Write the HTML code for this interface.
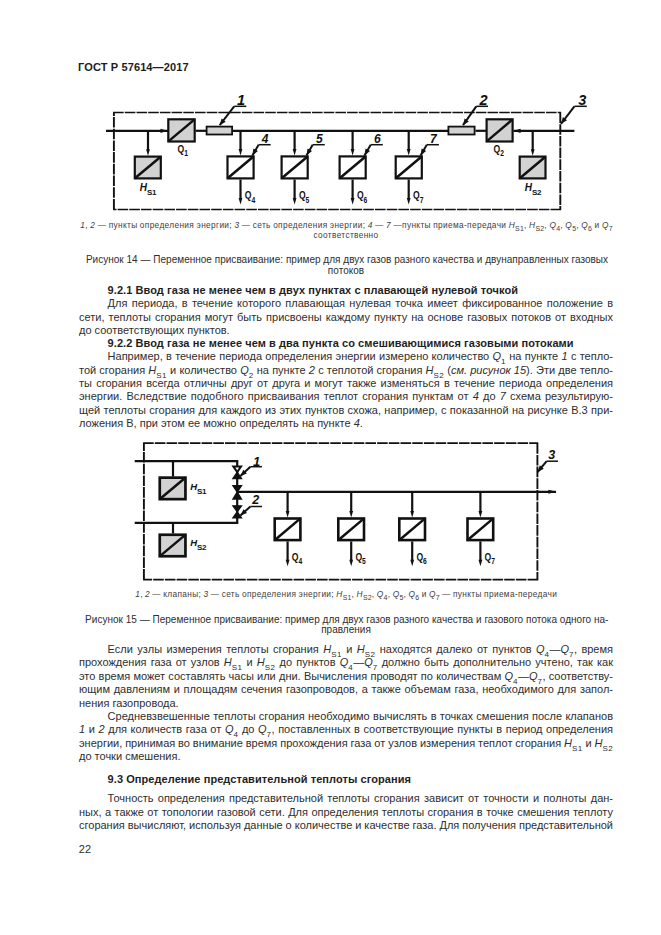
<!DOCTYPE html>
<html><head><meta charset="utf-8"><title>ГОСТ Р 57614—2017</title>
<style>
html,body{margin:0;padding:0;background:#fff}
body{width:661px;height:935px;position:relative;overflow:hidden;font-family:"Liberation Sans",sans-serif;color:#2e2e2e}
.t{position:absolute;line-height:14.0px;height:14.0px;white-space:nowrap}
.b{font-size:11px}
.h{font-size:11px;font-weight:bold;letter-spacing:0.066px;color:#1e1e1e}
.hd{font-size:11px;font-weight:bold;letter-spacing:0.12px;color:#1e1e1e}
.cap{font-size:10px;letter-spacing:0.018px}
.lg{font-size:8.3px;letter-spacing:0.35px;color:#404040}
.j{}
sub{font-size:8px;vertical-align:-3.5px;line-height:0;font-style:normal;letter-spacing:0.4px}
.lg sub{font-size:7px;vertical-align:-2.5px;letter-spacing:0.2px}
.dg{position:absolute;left:0;top:0}
.dg text{stroke:none;fill:#111;font-family:"Liberation Sans",sans-serif}
.ln{font-weight:bold;font-style:italic}
.ql{font-weight:bold}
.qs{font-weight:normal}
</style></head><body>
<div class="t hd" style="left:78.10px;top:60.39px;white-space:nowrap">ГОСТ Р 57614—2017</div>
<div class="t lg j" style="left:80.30px;top:217.83px;word-spacing:-0.282px"><i>1</i>, <i>2</i> — пункты определения энергии; <i>3</i> — сеть определения энергии; <i>4</i> — <i>7</i> —пункты приема-передачи <i>H</i><sub>S1</sub>, <i>H</i><sub>S2</sub>, <i>Q</i><sub>4</sub>, <i>Q</i><sub>5</sub>, <i>Q</i><sub>6</sub> и <i>Q</i><sub>7</sub></div>
<div class="t lg" style="left:0;width:692px;text-align:center;top:228.43px">соответственно</div>
<div class="t cap" style="left:85.90px;top:252.73px;white-space:nowrap">Рисунок 14 — Переменное присваивание: пример для двух газов разного качества и двунаправленных газовых</div>
<div class="t cap" style="left:0;width:692px;text-align:center;top:263.54px">потоков</div>
<div class="t h" style="left:107.60px;top:283.09px;white-space:nowrap">9.2.1 Ввод газа не менее чем в двух пунктах с плавающей нулевой точкой</div>
<div class="t b j" style="left:107.60px;top:296.19px;word-spacing:1.231px">Для периода, в течение которого плавающая нулевая точка имеет фиксированное положение в</div>
<div class="t b j" style="left:79.00px;top:309.59px;word-spacing:0.986px">сети, теплоты сгорания могут быть присвоены каждому пункту на основе газовых потоков от входных</div>
<div class="t b" style="left:79.00px;top:322.89px;white-space:nowrap">до соответствующих пунктов.</div>
<div class="t h" style="left:107.60px;top:336.19px;white-space:nowrap">9.2.2 Ввод газа не менее чем в два пункта со смешивающимися газовыми потоками</div>
<div class="t b j" style="left:107.60px;top:349.39px;word-spacing:0.226px">Например, в течение периода определения энергии измерено количество <i>Q</i><sub>1</sub> на пункте <i>1</i> с тепло-</div>
<div class="t b j" style="left:79.00px;top:362.79px;word-spacing:0.120px">той сгорания <i>H</i><sub>S1</sub> и количество <i>Q</i><sub>2</sub> на пункте <i>2</i> с теплотой сгорания <i>H</i><sub>S2</sub> (<i>см. рисунок 15</i>). Эти две тепло-</div>
<div class="t b j" style="left:79.00px;top:376.09px;word-spacing:1.162px">ты сгорания всегда отличны друг от друга и могут также изменяться в течение периода определения</div>
<div class="t b j" style="left:79.00px;top:389.49px;word-spacing:1.137px">энергии. Вследствие подобного присваивания теплот сгорания пунктам от <i>4</i> до <i>7</i> схема результирую-</div>
<div class="t b j" style="left:79.00px;top:402.79px;word-spacing:0.309px">щей теплоты сгорания для каждого из этих пунктов схожа, например, с показанной на рисунке В.3 при-</div>
<div class="t b" style="left:79.00px;top:416.19px;white-space:nowrap">ложения В, при этом ее можно определять на пункте <i>4</i>.</div>
<div class="t lg j" style="left:135.20px;top:587.13px;word-spacing:-0.380px"><i>1</i>, <i>2</i> — клапаны; <i>3</i> — сеть определения энергии; <i>H</i><sub>S1</sub>, <i>H</i><sub>S2</sub>, <i>Q</i><sub>4</sub>, <i>Q</i><sub>5</sub>, <i>Q</i><sub>6</sub> и <i>Q</i><sub>7</sub> — пункты приема-передачи</div>
<div class="t cap" style="left:85.10px;top:612.53px;white-space:nowrap">Рисунок 15 — Переменное присваивание: пример для двух газов разного качества и газового потока одного на-</div>
<div class="t cap" style="left:0;width:692px;text-align:center;top:623.13px">правления</div>
<div class="t b j" style="left:107.60px;top:641.99px;word-spacing:1.375px">Если узлы измерения теплоты сгорания <i>H</i><sub>S1</sub> и <i>H</i><sub>S2</sub> находятся далеко от пунктов <i>Q</i><sub>4</sub>—<i>Q</i><sub>7</sub>, время</div>
<div class="t b j" style="left:79.00px;top:655.39px;word-spacing:1.087px">прохождения газа от узлов <i>H</i><sub>S1</sub> и <i>H</i><sub>S2</sub> до пунктов <i>Q</i><sub>4</sub>—<i>Q</i><sub>7</sub> должно быть дополнительно учтено, так как</div>
<div class="t b j" style="left:79.00px;top:668.79px;word-spacing:0.160px">это время может составлять часы или дни. Вычисления проводят по количествам <i>Q</i><sub>4</sub>—<i>Q</i><sub>7</sub>, соответству-</div>
<div class="t b j" style="left:79.00px;top:682.19px;word-spacing:0.628px">ющим давлениям и площадям сечения газопроводов, а также объемам газа, необходимого для запол-</div>
<div class="t b" style="left:79.00px;top:695.59px;white-space:nowrap">нения газопровода.</div>
<div class="t b j" style="left:107.60px;top:708.89px;word-spacing:0.270px">Средневзвешенные теплоты сгорания необходимо вычислять в точках смешения после клапанов</div>
<div class="t b j" style="left:79.00px;top:722.19px;word-spacing:0.549px"><i>1</i> и <i>2</i> для количеств газа от <i>Q</i><sub>4</sub> до <i>Q</i><sub>7</sub>, поставленных в соответствующие пункты в период определения</div>
<div class="t b j" style="left:79.00px;top:735.59px;word-spacing:-0.193px">энергии, принимая во внимание время прохождения газа от узлов измерения теплот сгорания <i>H</i><sub>S1</sub> и <i>H</i><sub>S2</sub></div>
<div class="t b" style="left:79.00px;top:748.99px;white-space:nowrap">до точки смешения.</div>
<div class="t h" style="left:107.60px;top:772.09px;white-space:nowrap">9.3 Определение представительной теплоты сгорания</div>
<div class="t b j" style="left:107.60px;top:791.39px;word-spacing:1.206px">Точность определения представительной теплоты сгорания зависит от точности и полноты дан-</div>
<div class="t b j" style="left:79.00px;top:804.79px;word-spacing:0.393px">ных, а также от топологии газовой сети. Для определения теплоты сгорания в точке смешения теплоту</div>
<div class="t b j" style="left:79.00px;top:818.19px;word-spacing:-0.094px">сгорания вычисляют, используя данные о количестве и качестве газа. Для получения представительной</div>
<div class="t b" style="left:78.80px;top:842.19px;white-space:nowrap">22</div>
<svg class="dg" width="661" height="935" viewBox="0 0 661 935" stroke="#111" fill="none">
<path d="M113.10 112.50 H561.10 M561.10 209.50 H113.10" stroke-width="1.7" stroke-dasharray="10.6 1.1"/>
<path d="M560.30 112.50 V209.50 M113.90 209.50 V112.50" stroke-width="1.9" stroke-dasharray="10.6 1.1"/>
<line x1="106.00" y1="130.80" x2="168.00" y2="130.80" stroke-width="2.20" />
<polygon points="160.50,128.70 160.50,132.90 167.50,130.80" fill="#111" stroke="none"/>
<rect x="168.30" y="119.30" width="26.40" height="22.20" stroke-width="2.20" fill="#d2d2d2"/>
<line x1="168.40" y1="141.40" x2="194.60" y2="119.40" stroke-width="2.50" />
<line x1="195.50" y1="130.80" x2="206.00" y2="130.80" stroke-width="2.20" />
<rect x="206.60" y="126.60" width="25.50" height="7.90" stroke-width="1.80" fill="#d2d2d2"/>
<line x1="233.00" y1="130.80" x2="448.00" y2="130.80" stroke-width="2.20" />
<rect x="448.40" y="126.60" width="26.20" height="7.90" stroke-width="1.80" fill="#d2d2d2"/>
<line x1="475.50" y1="130.80" x2="486.00" y2="130.80" stroke-width="2.20" />
<rect x="486.60" y="119.30" width="26.00" height="22.20" stroke-width="2.20" fill="#d2d2d2"/>
<line x1="486.70" y1="141.40" x2="512.50" y2="119.40" stroke-width="2.50" />
<line x1="513.50" y1="130.80" x2="574.40" y2="130.80" stroke-width="2.20" />
<polygon points="520.60,128.70 520.60,132.90 513.60,130.80" fill="#111" stroke="none"/>
<circle cx="521" cy="130.8" r="0"/>
<line x1="148.00" y1="130.80" x2="148.00" y2="150.00" stroke-width="2.20" />
<polygon points="146.10,149.30 149.90,149.30 148.00,155.80" fill="#111" stroke="none"/>
<rect x="134.80" y="156.60" width="26.00" height="21.80" stroke-width="2.20" fill="#d2d2d2"/>
<line x1="134.90" y1="178.30" x2="160.70" y2="156.70" stroke-width="2.50" />
<line x1="532.70" y1="130.80" x2="532.70" y2="150.00" stroke-width="2.20" />
<polygon points="530.80,149.30 534.60,149.30 532.70,155.80" fill="#111" stroke="none"/>
<rect x="519.70" y="156.60" width="25.80" height="21.80" stroke-width="2.20" fill="#d2d2d2"/>
<line x1="519.80" y1="178.30" x2="545.40" y2="156.70" stroke-width="2.50" />
<line x1="240.50" y1="130.80" x2="240.50" y2="150.00" stroke-width="2.20" />
<polygon points="238.60,149.10 242.40,149.10 240.50,155.60" fill="#111" stroke="none"/>
<rect x="227.50" y="156.40" width="26.10" height="22.00" stroke-width="2.20" fill="none"/>
<line x1="227.60" y1="178.30" x2="253.50" y2="156.50" stroke-width="2.50" />
<line x1="240.50" y1="179.50" x2="240.50" y2="198.00" stroke-width="2.20" />
<polygon points="238.60,197.90 242.40,197.90 240.50,204.40" fill="#111" stroke="none"/>
<line x1="294.60" y1="130.80" x2="294.60" y2="150.00" stroke-width="2.20" />
<polygon points="292.70,149.10 296.50,149.10 294.60,155.60" fill="#111" stroke="none"/>
<rect x="281.60" y="156.40" width="26.10" height="22.00" stroke-width="2.20" fill="none"/>
<line x1="281.70" y1="178.30" x2="307.60" y2="156.50" stroke-width="2.50" />
<line x1="294.60" y1="179.50" x2="294.60" y2="198.00" stroke-width="2.20" />
<polygon points="292.70,197.90 296.50,197.90 294.60,204.40" fill="#111" stroke="none"/>
<line x1="352.60" y1="130.80" x2="352.60" y2="150.00" stroke-width="2.20" />
<polygon points="350.70,149.10 354.50,149.10 352.60,155.60" fill="#111" stroke="none"/>
<rect x="339.60" y="156.40" width="26.10" height="22.00" stroke-width="2.20" fill="none"/>
<line x1="339.70" y1="178.30" x2="365.60" y2="156.50" stroke-width="2.50" />
<line x1="352.60" y1="179.50" x2="352.60" y2="198.00" stroke-width="2.20" />
<polygon points="350.70,197.90 354.50,197.90 352.60,204.40" fill="#111" stroke="none"/>
<line x1="408.70" y1="130.80" x2="408.70" y2="150.00" stroke-width="2.20" />
<polygon points="406.80,149.10 410.60,149.10 408.70,155.60" fill="#111" stroke="none"/>
<rect x="395.70" y="156.40" width="26.10" height="22.00" stroke-width="2.20" fill="none"/>
<line x1="395.80" y1="178.30" x2="421.70" y2="156.50" stroke-width="2.50" />
<line x1="408.70" y1="179.50" x2="408.70" y2="198.00" stroke-width="2.20" />
<polygon points="406.80,197.90 410.60,197.90 408.70,204.40" fill="#111" stroke="none"/>
<g transform="translate(177.60 152.90) scale(0.82 1)"><text x="0" y="0" class="ql" font-size="10.5">Q<tspan font-size="8.2" dy="3.2">1</tspan></text></g>
<g transform="translate(493.60 152.90) scale(0.82 1)"><text x="0" y="0" class="ql" font-size="10.5">Q<tspan font-size="8.2" dy="3.2">2</tspan></text></g>
<text x="139.80" y="191.10" class="ln" font-size="10.0">H<tspan font-size="8" dy="3.6" style="font-style:normal" letter-spacing="-0.3">S1</tspan></text>
<text x="524.80" y="191.10" class="ln" font-size="10.0">H<tspan font-size="8" dy="3.6" style="font-style:normal" letter-spacing="-0.3">S2</tspan></text>
<g transform="translate(244.80 199.40) scale(0.82 1)"><text x="0" y="0" class="ql" font-size="10.5">Q<tspan font-size="8.2" dy="3.2">4</tspan></text></g>
<g transform="translate(298.90 199.40) scale(0.82 1)"><text x="0" y="0" class="ql" font-size="10.5">Q<tspan font-size="8.2" dy="3.2">5</tspan></text></g>
<g transform="translate(356.90 199.40) scale(0.82 1)"><text x="0" y="0" class="ql" font-size="10.5">Q<tspan font-size="8.2" dy="3.2">6</tspan></text></g>
<g transform="translate(413.00 199.40) scale(0.82 1)"><text x="0" y="0" class="ql" font-size="10.5">Q<tspan font-size="8.2" dy="3.2">7</tspan></text></g>
<text x="237.10" y="105.20" class="ln" font-size="14.5">1</text>
<line x1="234.20" y1="106.30" x2="246.30" y2="106.30" stroke-width="1.50" />
<line x1="234.20" y1="106.30" x2="219.70" y2="125.20" stroke-width="2.00" />
<polygon points="219.70,125.20 221.59,118.46 225.72,121.63" fill="#111" stroke="none"/>
<text x="479.40" y="105.20" class="ln" font-size="14.5">2</text>
<line x1="476.30" y1="106.30" x2="488.00" y2="106.30" stroke-width="1.50" />
<line x1="476.30" y1="106.30" x2="463.00" y2="125.20" stroke-width="2.00" />
<polygon points="463.00,125.20 464.61,118.39 468.87,121.38" fill="#111" stroke="none"/>
<text x="578.20" y="105.20" class="ln" font-size="14.5">3</text>
<line x1="574.40" y1="106.30" x2="586.80" y2="106.30" stroke-width="1.50" />
<line x1="574.40" y1="106.30" x2="561.00" y2="123.80" stroke-width="2.00" />
<polygon points="561.00,123.80 562.89,117.06 567.02,120.22" fill="#111" stroke="none"/>
<text x="261.80" y="142.80" class="ln" font-size="12.0">4</text>
<line x1="258.60" y1="144.70" x2="270.70" y2="144.70" stroke-width="1.50" />
<line x1="258.60" y1="144.70" x2="252.40" y2="155.40" stroke-width="2.00" />
<polygon points="252.40,155.40 253.41,148.47 257.91,151.08" fill="#111" stroke="none"/>
<text x="315.90" y="142.80" class="ln" font-size="12.0">5</text>
<line x1="312.70" y1="144.70" x2="324.80" y2="144.70" stroke-width="1.50" />
<line x1="312.70" y1="144.70" x2="306.50" y2="155.40" stroke-width="2.00" />
<polygon points="306.50,155.40 307.51,148.47 312.01,151.08" fill="#111" stroke="none"/>
<text x="373.90" y="142.80" class="ln" font-size="12.0">6</text>
<line x1="370.70" y1="144.70" x2="382.80" y2="144.70" stroke-width="1.50" />
<line x1="370.70" y1="144.70" x2="364.50" y2="155.40" stroke-width="2.00" />
<polygon points="364.50,155.40 365.51,148.47 370.01,151.08" fill="#111" stroke="none"/>
<text x="430.00" y="142.80" class="ln" font-size="12.0">7</text>
<line x1="426.80" y1="144.70" x2="438.90" y2="144.70" stroke-width="1.50" />
<line x1="426.80" y1="144.70" x2="420.60" y2="155.40" stroke-width="2.00" />
<polygon points="420.60,155.40 421.61,148.47 426.11,151.08" fill="#111" stroke="none"/>
<path d="M143.10 443.20 H538.20 M538.20 579.60 H143.10" stroke-width="1.7" stroke-dasharray="10.6 1.1"/>
<path d="M537.40 443.20 V579.60 M143.90 579.60 V443.20" stroke-width="1.9" stroke-dasharray="10.6 1.1"/>
<line x1="134.70" y1="461.20" x2="238.10" y2="461.20" stroke-width="2.20" />
<line x1="237.20" y1="460.30" x2="237.20" y2="523.70" stroke-width="2.20" />
<line x1="134.70" y1="522.80" x2="238.10" y2="522.80" stroke-width="2.20" />
<line x1="173.00" y1="461.20" x2="173.00" y2="476.60" stroke-width="2.20" />
<rect x="159.75" y="477.65" width="25.70" height="21.50" stroke-width="2.70" fill="#d2d2d2"/>
<line x1="159.60" y1="499.30" x2="185.60" y2="477.50" stroke-width="2.50" />
<line x1="173.00" y1="522.80" x2="173.00" y2="533.50" stroke-width="2.20" />
<rect x="159.75" y="534.75" width="25.70" height="21.50" stroke-width="2.70" fill="#d2d2d2"/>
<line x1="159.60" y1="556.40" x2="185.60" y2="534.60" stroke-width="2.50" />
<text x="190.20" y="490.00" class="ln" font-size="9.5">H<tspan font-size="8" dy="3.6" style="font-style:normal" letter-spacing="-0.3">S1</tspan></text>
<text x="190.20" y="546.40" class="ln" font-size="9.5">H<tspan font-size="8" dy="3.6" style="font-style:normal" letter-spacing="-0.3">S2</tspan></text>
<polygon points="233.30,466.40 241.10,466.40 237.20,471.95" fill="#fff" stroke="#111" stroke-width="2.0" stroke-linejoin="miter"/>
<polygon points="232.90,478.50 241.50,478.50 237.20,472.25" fill="#111" stroke="#111" stroke-width="1.3" stroke-linejoin="miter"/>
<polygon points="232.90,485.70 241.50,485.70 237.20,492.00" fill="#111" stroke="#111" stroke-width="1.3" stroke-linejoin="miter"/>
<polygon points="232.90,499.10 241.50,499.10 237.20,492.00" fill="#111" stroke="#111" stroke-width="1.3" stroke-linejoin="miter"/>
<polygon points="232.90,505.80 241.50,505.80 237.20,511.85" fill="#111" stroke="#111" stroke-width="1.3" stroke-linejoin="miter"/>
<polygon points="232.90,517.90 241.50,517.90 237.20,511.85" fill="#111" stroke="#111" stroke-width="1.3" stroke-linejoin="miter"/>
<line x1="237.20" y1="491.80" x2="556.00" y2="491.80" stroke-width="2.20" />
<polygon points="548.40,489.80 548.40,493.80 556.40,491.80" fill="#111" stroke="none"/>
<line x1="287.60" y1="491.80" x2="287.60" y2="512.00" stroke-width="2.20" />
<polygon points="285.70,510.90 289.50,510.90 287.60,517.40" fill="#111" stroke="none"/>
<rect x="274.70" y="518.50" width="25.70" height="21.60" stroke-width="2.60" fill="none"/>
<line x1="274.60" y1="540.20" x2="300.50" y2="518.40" stroke-width="2.50" />
<line x1="287.60" y1="541.40" x2="287.60" y2="560.00" stroke-width="2.20" />
<polygon points="285.70,559.70 289.50,559.70 287.60,566.20" fill="#111" stroke="none"/>
<line x1="351.20" y1="491.80" x2="351.20" y2="512.00" stroke-width="2.20" />
<polygon points="349.30,510.90 353.10,510.90 351.20,517.40" fill="#111" stroke="none"/>
<rect x="338.30" y="518.50" width="25.70" height="21.60" stroke-width="2.60" fill="none"/>
<line x1="338.20" y1="540.20" x2="364.10" y2="518.40" stroke-width="2.50" />
<line x1="351.20" y1="541.40" x2="351.20" y2="560.00" stroke-width="2.20" />
<polygon points="349.30,559.70 353.10,559.70 351.20,566.20" fill="#111" stroke="none"/>
<line x1="412.20" y1="491.80" x2="412.20" y2="512.00" stroke-width="2.20" />
<polygon points="410.30,510.90 414.10,510.90 412.20,517.40" fill="#111" stroke="none"/>
<rect x="399.30" y="518.50" width="25.70" height="21.60" stroke-width="2.60" fill="none"/>
<line x1="399.20" y1="540.20" x2="425.10" y2="518.40" stroke-width="2.50" />
<line x1="412.20" y1="541.40" x2="412.20" y2="560.00" stroke-width="2.20" />
<polygon points="410.30,559.70 414.10,559.70 412.20,566.20" fill="#111" stroke="none"/>
<line x1="480.40" y1="491.80" x2="480.40" y2="512.00" stroke-width="2.20" />
<polygon points="478.50,510.90 482.30,510.90 480.40,517.40" fill="#111" stroke="none"/>
<rect x="467.50" y="518.50" width="25.70" height="21.60" stroke-width="2.60" fill="none"/>
<line x1="467.40" y1="540.20" x2="493.30" y2="518.40" stroke-width="2.50" />
<line x1="480.40" y1="541.40" x2="480.40" y2="560.00" stroke-width="2.20" />
<polygon points="478.50,559.70 482.30,559.70 480.40,566.20" fill="#111" stroke="none"/>
<g transform="translate(291.80 561.00) scale(0.82 1)"><text x="0" y="0" class="ql" font-size="10.5">Q<tspan font-size="8.2" dy="3.2">4</tspan></text></g>
<g transform="translate(355.40 561.00) scale(0.82 1)"><text x="0" y="0" class="ql" font-size="10.5">Q<tspan font-size="8.2" dy="3.2">5</tspan></text></g>
<g transform="translate(416.40 561.00) scale(0.82 1)"><text x="0" y="0" class="ql" font-size="10.5">Q<tspan font-size="8.2" dy="3.2">6</tspan></text></g>
<g transform="translate(484.60 561.00) scale(0.82 1)"><text x="0" y="0" class="ql" font-size="10.5">Q<tspan font-size="8.2" dy="3.2">7</tspan></text></g>
<text x="253.00" y="465.80" class="ln" font-size="13.0">1</text>
<line x1="250.40" y1="466.70" x2="262.00" y2="466.70" stroke-width="1.50" />
<line x1="250.40" y1="466.70" x2="240.40" y2="476.10" stroke-width="2.00" />
<polygon points="240.40,476.10 243.36,469.75 246.92,473.54" fill="#111" stroke="none"/>
<text x="252.20" y="504.40" class="ln" font-size="12.5">2</text>
<line x1="250.40" y1="506.50" x2="262.00" y2="506.50" stroke-width="1.50" />
<line x1="250.40" y1="506.50" x2="240.40" y2="515.50" stroke-width="2.00" />
<polygon points="240.40,515.50 243.49,509.22 246.97,513.08" fill="#111" stroke="none"/>
<text x="548.20" y="458.80" class="ln" font-size="12.5">3</text>
<line x1="546.70" y1="461.20" x2="558.00" y2="461.20" stroke-width="1.50" />
<line x1="546.70" y1="461.20" x2="537.60" y2="472.00" stroke-width="2.00" />
<polygon points="537.60,472.00 539.80,465.35 543.78,468.70" fill="#111" stroke="none"/>
</svg>
</body></html>
